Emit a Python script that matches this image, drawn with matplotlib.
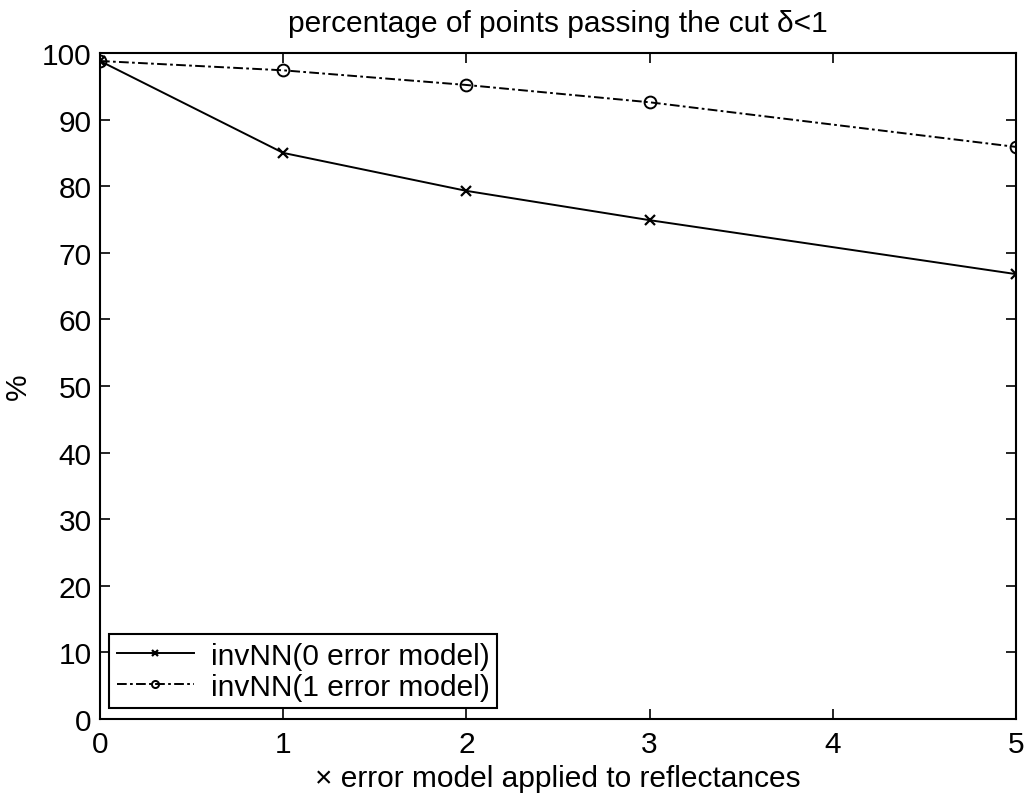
import matplotlib
matplotlib.use("Agg")
import matplotlib.pyplot as plt

x_vals = [0, 1, 2, 3, 5]
series0 = [98.8, 85.0, 79.3, 74.9, 66.8]
series1 = [98.8, 97.4, 95.2, 92.6, 85.9]
labels = ["invNN(0 error model)", "invNN(1 error model)"]
xticks = [0, 1, 2, 3, 4, 5]
yticks = list(range(0, 101, 10))

plt.rcParams['font.family'] = ['Liberation Sans', 'DejaVu Sans']

FS = 21.5

fig = plt.figure(figsize=(10.29, 8.03), dpi=100)
ax = fig.add_axes([100/1029, 1-720/803, 916/1029, 666/803])

ax.plot(x_vals, series0, color='black', lw=1.4, linestyle='-', marker='x',
        markersize=7, markeredgewidth=1.6, label=labels[0])
ax.plot(x_vals, series1, color='black', lw=1.4, linestyle=(0, (5, 1.7, 1.4, 1.7)),
        marker='o', markersize=8.5, markerfacecolor='none', markeredgewidth=1.4,
        label=labels[1])

ax.set_xlim(0, 5)
ax.set_ylim(0, 100)
ax.set_xticks(xticks)
ax.set_yticks(yticks)
ax.tick_params(direction='in', length=7, width=1.2, top=True, right=True,
               labelsize=FS)
ax.tick_params(axis='x', pad=8)
ax.tick_params(axis='y', pad=6)
for s in ax.spines.values():
    s.set_linewidth(1.5)

ax.set_title("percentage of points passing the cut \u03b4<1", fontsize=FS, pad=16)
ax.set_xlabel("\u00d7 error model applied to reflectances", fontsize=FS, labelpad=4)
ax.set_ylabel("%", fontsize=FS, labelpad=7)

leg = ax.legend(loc='lower left', bbox_to_anchor=(0.01, 0.0165), fontsize=FS,
                frameon=True, fancybox=False, edgecolor='black', framealpha=1,
                markerscale=0.6, handlelength=2.6, borderpad=0.25, labelspacing=0.1,
                handletextpad=0.55, borderaxespad=0)
leg.get_frame().set_linewidth(1.5)

fig.savefig("out.png", dpi=100)
